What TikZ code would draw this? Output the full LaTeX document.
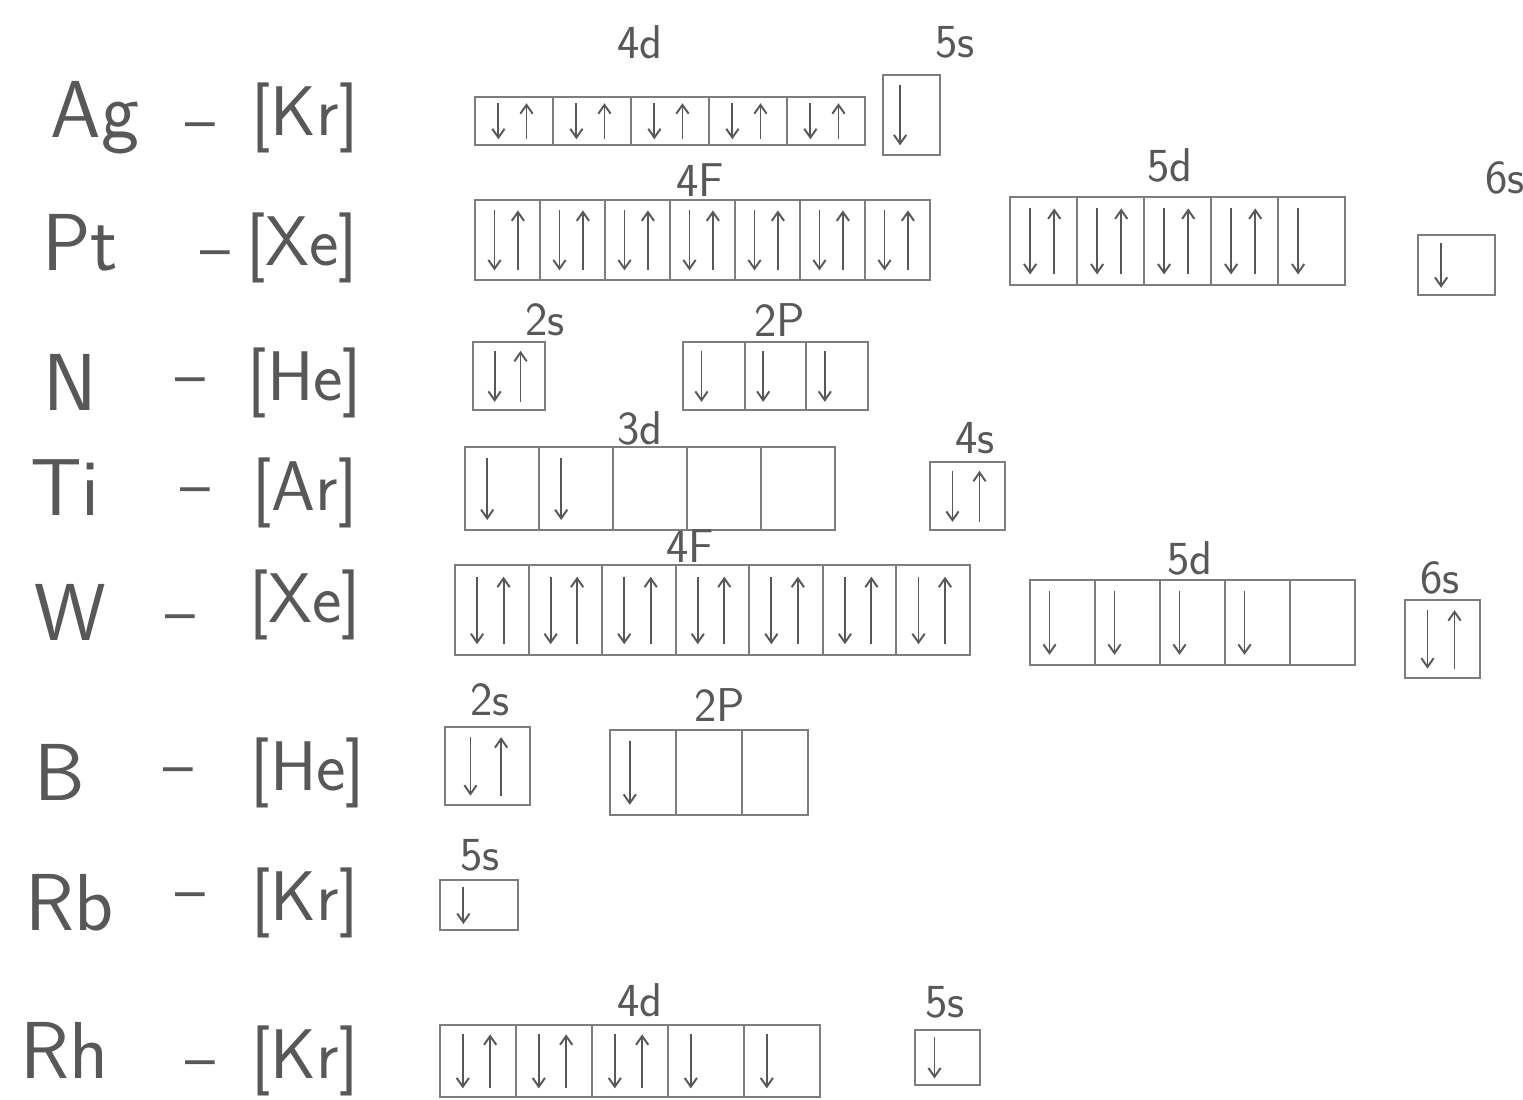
\documentclass[tikz,border=0pt]{standalone}
\usepackage{fontspec}
\usetikzlibrary{arrows.meta}
\definecolor{pencil}{RGB}{88,88,88}
\definecolor{boxc}{RGB}{125,125,125}
\newcommand{\orbgroup}[9]{%
  \node[lbl] (#1-lab) at (#7,#8) {#6};
  \foreach \o [count=\n] in {#9} {\xdef\nbox{\n}}%
  \pgfmathsetmacro\bw{(#4-#2)/\nbox}%
  \pgfmathsetmacro\bh{#5-#3}%
  \foreach \o [count=\i] in {#9} {%
    \pgfmathsetmacro\xl{#2+(\i-1)*\bw}%
    \node[obox, anchor=north west, minimum width=\bw*0.02cm, minimum height=\bh*0.02cm] (#1-\i) at (\xl,#3) {};
    \ifnum\o>0 \draw[spin] (\xl+0.3*\bw, #3+0.13*\bh) -- (\xl+0.3*\bw, #3+0.88*\bh);\fi
    \ifnum\o>1 \draw[spin] (\xl+0.66*\bw, #3+0.88*\bh) -- (\xl+0.66*\bw, #3+0.13*\bh);\fi
  }%
}
\begin{document}
\begin{tikzpicture}[x=0.02cm,y=-0.02cm,
  el/.style={text=pencil, font=\sffamily\fontsize{46}{50}\selectfont, inner sep=0, anchor=base},
  core/.style={text=pencil, font=\sffamily\fontsize{40}{44}\selectfont, inner sep=0, anchor=base},
  sep/.style={text=pencil, font=\sffamily\fontsize{36}{40}\selectfont, inner sep=0},
  lbl/.style={text=pencil, font=\sffamily\fontsize{27}{30}\selectfont, inner sep=0},
  obox/.style={draw=boxc, line width=1.1pt, inner sep=0, outer sep=0},
  spin/.style={draw=pencil, line width=1.1pt, -{Straight Barb[length=5pt,width=7pt]}}]
\fill[white] (0,0) rectangle (1523,1099);
\useasboundingbox (0,0) rectangle (1523,1099);
% element symbols
\node[el] (e1) at (95,137) {Ag};
\node[el] (e2) at (80,270) {Pt};
\node[el] (e3) at (70,410) {N};
\node[el] (e4) at (65,515) {Ti};
\node[el] (e5) at (70,640) {W};
\node[el] (e6) at (60,800) {B};
\node[el] (e7) at (70,930) {Rb};
\node[el] (e8) at (65,1078) {Rh};
% dashes
\node[sep] (d1) at (200,132) {–};
\node[sep] (d2) at (215,260) {–};
\node[sep] (d3) at (190,387) {–};
\node[sep] (d4) at (195,497) {–};
\node[sep] (d5) at (180,624) {–};
\node[sep] (d6) at (178,777) {–};
\node[sep] (d7) at (190,902) {–};
\node[sep] (d8) at (200,1070) {–};
% noble gas cores
\node[core] (c1) at (305,135) {[Kr]};
\node[core] (c2) at (302,265) {[Xe]};
\node[core] (c3) at (305,400) {[He]};
\node[core] (c4) at (305,510) {[Ar]};
\node[core] (c5) at (305,622) {[Xe]};
\node[core] (c6) at (308,790) {[He]};
\node[core] (c7) at (305,920) {[Kr]};
\node[core] (c8) at (305,1078) {[Kr]};
% orbitals
\orbgroup{ag4d}{475}{97}{865}{145}{4d}{640}{42}{2,2,2,2,2}
\orbgroup{ag5s}{883}{75}{940}{155}{5s}{955}{42}{1}
\orbgroup{pt4f}{475}{200}{930}{280}{4F}{700}{180}{2,2,2,2,2,2,2}
\orbgroup{pt5d}{1010}{197}{1345}{285}{5d}{1170}{165}{2,2,2,2,1}
\orbgroup{pt6s}{1418}{235}{1495}{295}{6s}{1505}{178}{1}
\orbgroup{n2s}{473}{342}{545}{410}{2s}{545}{320}{2}
\orbgroup{n2p}{683}{342}{868}{410}{2P}{780}{320}{1,1,1}
\orbgroup{ti3d}{465}{447}{835}{530}{3d}{640}{428}{1,1,0,0,0}
\orbgroup{ti4s}{930}{462}{1005}{530}{4s}{975}{438}{2}
\orbgroup{w4f}{455}{565}{970}{655}{4F}{690}{546}{2,2,2,2,2,2,2}
\orbgroup{w5d}{1030}{580}{1355}{665}{5d}{1190}{558}{1,1,1,1,0}
\orbgroup{w6s}{1405}{600}{1480}{678}{6s}{1440}{578}{2}
\orbgroup{b2s}{445}{727}{530}{805}{2s}{490}{700}{2}
\orbgroup{b2p}{610}{730}{808}{815}{2P}{720}{705}{1,0,0}
\orbgroup{rb5s}{440}{880}{518}{930}{5s}{480}{855}{1}
\orbgroup{rh4d}{440}{1025}{820}{1097}{4d}{640}{1000}{2,2,2,1,1}
\orbgroup{rh5s}{915}{1030}{980}{1085}{5s}{945}{1002}{1}
\end{tikzpicture}
\end{document}
